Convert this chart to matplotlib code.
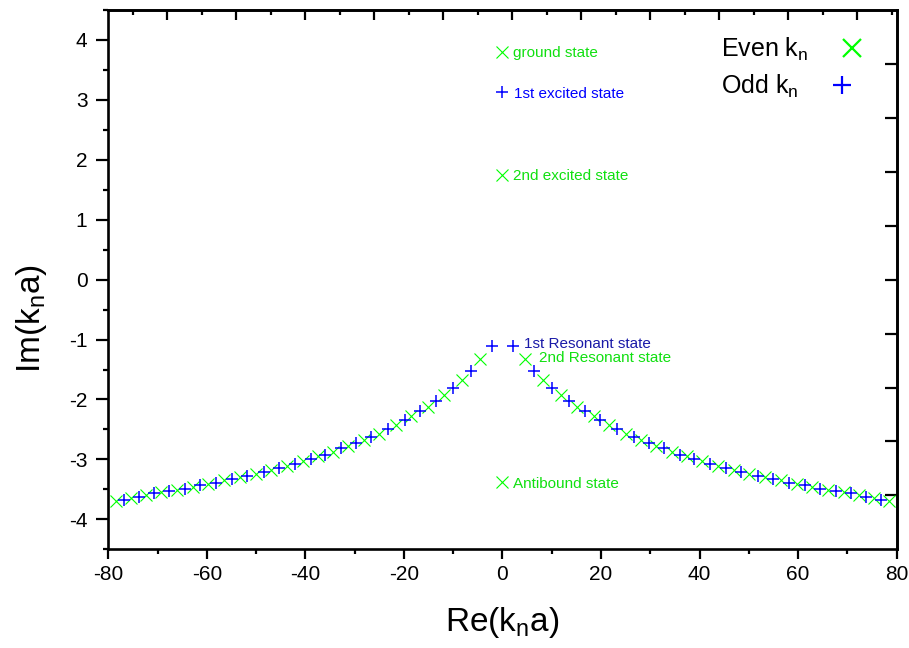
import matplotlib
matplotlib.use("Agg")
import matplotlib.pyplot as plt
from matplotlib.ticker import MultipleLocator, FixedLocator, NullFormatter

plt.rcParams["font.family"] = ["Liberation Sans", "DejaVu Sans"]
plt.rcParams["axes.unicode_minus"] = False
plt.rcParams["mathtext.fontset"] = "custom"
plt.rcParams["mathtext.rm"] = "Liberation Sans"
plt.rcParams["mathtext.it"] = "Liberation Sans"

GREEN = "#00ff00"
GREEN_TXT = "#10e010"
BLUE = "#0000ff"
NAVY = "#1a1aa8"

# Even-parity resonances (complex k_n a), left and right branches
even_re = [-78.5, -75.35, -72.25, -69.2, -66.0, -62.85, -59.7, -56.5, -53.3, -50.1,
           -46.9, -43.75, -40.55, -37.45, -34.4, -31.25, -28.15, -24.97, -21.6, -18.5,
           -15.2, -11.8, -8.29, -4.64,
           4.64, 8.29, 11.8, 15.2, 18.5, 21.6, 24.97, 28.15, 31.25, 34.4,
           37.45, 40.55, 43.75, 46.9, 50.1, 53.3, 56.5, 59.7, 62.85, 66.0,
           69.2, 72.25, 75.35, 78.5]
even_im = [-3.69, -3.65, -3.60, -3.55, -3.51, -3.46, -3.41, -3.35, -3.30, -3.24,
           -3.18, -3.11, -3.03, -2.95, -2.87, -2.77, -2.68, -2.57, -2.43, -2.28,
           -2.13, -1.92, -1.67, -1.32,
           -1.32, -1.67, -1.92, -2.13, -2.28, -2.43, -2.57, -2.68, -2.77, -2.87,
           -2.95, -3.03, -3.11, -3.18, -3.24, -3.30, -3.35, -3.41, -3.46, -3.51,
           -3.55, -3.60, -3.65, -3.69]

# Odd-parity resonances
odd_re = [-76.9, -73.78, -70.73, -67.68, -64.36, -61.3, -58.1, -54.88, -51.75, -48.45,
          -45.3, -42.2, -38.9, -35.97, -32.78, -29.7, -26.6, -23.27, -19.79, -16.7,
          -13.48, -9.96, -6.43, -2.2,
          2.2, 6.43, 9.96, 13.48, 16.7, 19.79, 23.27, 26.6, 29.7, 32.78,
          35.97, 38.9, 42.2, 45.3, 48.45, 51.75, 54.88, 58.1, 61.3, 64.36,
          67.68, 70.73, 73.78, 76.9]
odd_im = [-3.67, -3.63, -3.56, -3.53, -3.49, -3.43, -3.39, -3.32, -3.27, -3.21,
          -3.15, -3.07, -2.99, -2.92, -2.81, -2.73, -2.62, -2.50, -2.35, -2.20,
          -2.03, -1.81, -1.52, -1.10,
          -1.10, -1.52, -1.81, -2.03, -2.20, -2.35, -2.50, -2.62, -2.73, -2.81,
          -2.92, -2.99, -3.07, -3.15, -3.21, -3.27, -3.32, -3.39, -3.43, -3.49,
          -3.53, -3.56, -3.63, -3.67]

# Bound and antibound states on the imaginary axis
even_bound_re = [0.0, 0.0, 0.0]
even_bound_im = [3.80, 1.75, -3.38]
even_bound_names = ["ground state", "2nd excited state", "Antibound state"]
odd_bound_re = [0.0]
odd_bound_im = [3.13]
odd_bound_names = ["1st excited state"]

x_ticks = [-80, -60, -40, -20, 0, 20, 40, 60, 80]
y_ticks = [-4, -3, -2, -1, 0, 1, 2, 3, 4]
top_major = [-68, -54, -40, -26, -12, 2, 16, 30, 44, 58, 72]
top_minor = [-75, -61, -47, -33, -19, -5, 9, 23, 37, 51, 65, 79]
right_major = [-3.6, -2.7, -1.8, -0.9, 0.0, 0.9, 1.8, 2.7, 3.6]

fig = plt.figure(figsize=(9.09, 6.48), dpi=100)
ax = fig.add_axes([0.1191, 0.1523, 0.8674, 0.8323])

mk_even = dict(marker="x", linestyle="none", color=GREEN, markersize=8.5,
               markeredgewidth=0.8)
mk_odd = dict(marker="+", linestyle="none", color=BLUE, markersize=8.5,
              markeredgewidth=1.1)

ax.plot(even_re, even_im, label=r"Even k$_\mathregular{n}$", **mk_even)
ax.plot(odd_re, odd_im, label=r"Odd k$_\mathregular{n}$", **mk_odd)
ax.plot(even_bound_re, even_bound_im, **mk_even)
ax.plot(odd_bound_re, odd_bound_im, **mk_odd)

for xr, yi, name in zip(even_bound_re, even_bound_im, even_bound_names):
    ax.annotate(name, xy=(xr, yi), xytext=(7.5, 0), textcoords="offset points",
                ha="left", va="center_baseline", fontsize=11, color=GREEN_TXT)
for xr, yi, name in zip(odd_bound_re, odd_bound_im, odd_bound_names):
    ax.annotate(name, xy=(xr, yi), xytext=(8.5, 0), textcoords="offset points",
                ha="left", va="center_baseline", fontsize=11, color=BLUE)

i_odd = odd_re.index(2.2)
i_even = even_re.index(4.64)
ax.annotate("1st Resonant state", xy=(odd_re[i_odd], odd_im[i_odd]),
            xytext=(7.5, 2.5), textcoords="offset points", ha="left",
            va="center_baseline", fontsize=11, color=NAVY)
ax.annotate("2nd Resonant state", xy=(even_re[i_even], even_im[i_even]),
            xytext=(9.5, 1.5), textcoords="offset points", ha="left",
            va="center_baseline", fontsize=11, color=GREEN_TXT)

ax.set_xlim(-80, 80)
ax.set_ylim(-4.5, 4.5)
ax.xaxis.set_major_locator(FixedLocator(x_ticks))
ax.xaxis.set_minor_locator(MultipleLocator(10))
ax.yaxis.set_major_locator(FixedLocator(y_ticks))
ax.yaxis.set_minor_locator(MultipleLocator(0.5))

for s in ax.spines.values():
    s.set_linewidth(1.9)
ax.tick_params(axis="x", which="major", direction="out", length=7.5, width=1.6,
               labelsize=15, pad=3.5, top=False)
ax.tick_params(axis="x", which="minor", direction="out", length=3.6, width=1.6, top=False)
ax.tick_params(axis="y", which="major", direction="out", length=8.5, width=1.6,
               labelsize=15, pad=6.5, right=False)
ax.tick_params(axis="y", which="minor", direction="out", length=3.6, width=1.6, right=False)

# Opposite axes carry their own, unlabelled tick sets
top = ax.secondary_xaxis("top")
top.xaxis.set_major_locator(FixedLocator(top_major))
top.xaxis.set_minor_locator(FixedLocator(top_minor))
top.xaxis.set_major_formatter(NullFormatter())
top.tick_params(which="major", direction="in", length=7.2, width=1.6)
top.tick_params(which="minor", direction="in", length=3.6, width=1.6)
top.spines["top"].set_linewidth(1.9)

right = ax.secondary_yaxis("right")
right.yaxis.set_major_locator(FixedLocator(right_major))
right.yaxis.set_minor_locator(FixedLocator([]))
right.yaxis.set_major_formatter(NullFormatter())
right.tick_params(which="major", direction="in", length=9, width=1.6)
right.spines["right"].set_linewidth(1.9)

ax.set_xlabel(r"Re(k$_\mathregular{n}$a)", fontsize=24)
ax.set_ylabel(r"Im(k$_\mathregular{n}$a)", fontsize=24)
ax.xaxis.set_label_coords(0.499, -0.104)
ax.yaxis.set_label_coords(-0.075, 0.428)

leg = ax.legend(loc="upper left", bbox_to_anchor=(0.777, 0.952), frameon=False,
                markerfirst=False, fontsize=18, handlelength=1.0, handletextpad=1.25,
                labelspacing=0.4, borderpad=0, borderaxespad=0, markerscale=1.5)
for col in leg._legend_handle_box.get_children():
    col.align = "left"
for h in leg.legend_handles:
    h.set_markeredgewidth(1.6)

fig.savefig("out.png", dpi=100)
